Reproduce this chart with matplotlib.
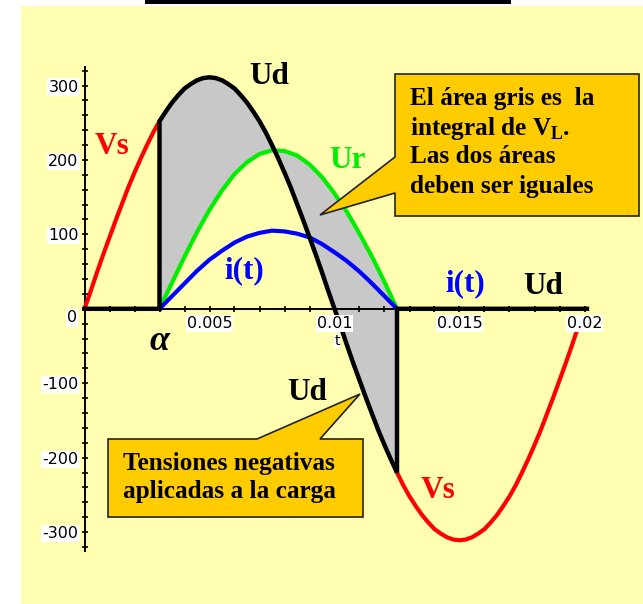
import numpy as np
import matplotlib.pyplot as plt
from matplotlib.patches import Polygon, Rectangle

# supply voltage Vs sampled every 0.25 ms over one 50 Hz period
t_vs = np.arange(81) * 0.00025
vs = [0, 24, 49, 73, 96, 119, 141, 163, 183, 202, 220, 237, 252, 265, 277, 287,
      296, 302, 307, 310, 311, 310, 307, 302, 296, 287, 277, 265, 252, 237, 220,
      202, 183, 163, 141, 119, 96, 73, 49, 24, 0,
      -24, -49, -73, -96, -119, -141, -163, -183, -202, -220, -237, -252, -265,
      -277, -287, -296, -302, -307, -310, -311, -310, -307, -302, -296, -287,
      -277, -265, -252, -237, -220, -202, -183, -163, -141, -119, -96, -73, -49,
      -24, 0]

alpha_idx = 12      # firing instant, t = 0.003 s
off_idx = 50        # current extinction, t = 0.0125 s
red_end_idx = 79

# conduction interval, sampled every 0.5 ms
t_cond = t_vs[alpha_idx:off_idx + 1:2]
ur = [0, 35, 70, 103, 133, 159, 181, 197, 208, 213, 212, 206, 194, 177, 155,
      130, 101, 70, 36, 0]
i_t = [0, 17, 34, 51, 66, 78, 89, 97, 102, 105, 104, 101, 96, 87, 76, 64, 50,
       34, 17, 0]

xticks = [0.005, 0.01, 0.015, 0.02]
xlabels = ['0.005', '0.01', '0.015', '0.02']
yticks = [-300, -200, -100, 100, 200, 300]
ylabels = ['-300', '-200', '-100', '100', '200', '300']

W, H = 643, 604


def fx(x):
    return x / W


def fy(y):
    return 1 - y / H


fig = plt.figure(figsize=(W / 100, H / 100), dpi=100)
fig.patch.set_facecolor('white')
fig.add_artist(Rectangle((fx(21), 0), 1 - fx(21), fy(6), transform=fig.transFigure,
                         fc='#FFFFB2', ec='none', zorder=-2))
fig.add_artist(Rectangle((fx(145), fy(4)), fx(511) - fx(145), fy(0) - fy(4),
                         transform=fig.transFigure, fc='black', ec='none', zorder=-1))

ax = fig.add_axes([0, 0, 1, 1])
ax.set_facecolor('none')

vs = np.array(vs)
ud_cond = vs[alpha_idx:off_idx + 1:2]

# grey area between Ud and Ur
ax.fill_between(t_cond, ud_cond, ur, color='#C8C8C8', lw=0, zorder=2)

ax.plot(t_vs[:alpha_idx + 1], vs[:alpha_idx + 1], color='#FF0000', lw=3, zorder=3)
ax.plot(t_vs[off_idx:red_end_idx + 1], vs[off_idx:red_end_idx + 1],
        color='#FF0000', lw=3, zorder=3)
ax.plot(t_cond, ur, color='#00EE00', lw=3, zorder=4)
ax.plot(t_cond, i_t, color='#0000FF', lw=3, zorder=4)

# load voltage Ud: zero, then Vs during conduction, then zero again
ud_t = np.concatenate([[0], t_vs[alpha_idx:off_idx + 1], [t_vs[off_idx], 0.0201]])
ud_v = np.concatenate([[0], vs[alpha_idx:off_idx + 1], [0, 0]])
ud_t = np.insert(ud_t, 1, t_vs[alpha_idx])
ud_v = np.insert(ud_v, 1, 0)
ax.plot(ud_t, ud_v, color='black', lw=3.2, zorder=5, solid_joinstyle='miter')

x0, k_x = 84.5, 25000.0
y0, k_y = 308.8, 0.7443
ax.set_xlim(-x0 / k_x, (W - x0) / k_x)
ax.set_ylim(-(H - y0) / k_y, y0 / k_y)

for side in ['top', 'right']:
    ax.spines[side].set_visible(False)
ax.spines['left'].set_position(('data', 0))
ax.spines['bottom'].set_position(('data', 0))
ax.spines['left'].set_bounds(-325, 325)
ax.spines['bottom'].set_bounds(0, 0.0201)
ax.spines['left'].set_linewidth(1.4)
ax.spines['bottom'].set_linewidth(1.4)

ax.set_xticks(xticks)
ax.set_xticklabels(xlabels)
ax.set_xticks(np.arange(21) * 0.001, minor=True)
ax.set_yticks(yticks)
ax.set_yticklabels(ylabels)
ax.set_yticks(np.arange(-16, 17) * 20, minor=True)
ax.tick_params(which='both', direction='inout', length=4.5, width=1.2,
               labelsize=11.5, colors='black')
ax.tick_params(axis='x', pad=3)
ax.tick_params(axis='y', pad=2)
ax.xaxis.set_zorder(6)
ax.yaxis.set_zorder(6)
for lab in ax.get_xticklabels() + ax.get_yticklabels():
    lab.set_fontfamily('DejaVu Sans')
    lab.set_bbox(dict(fc='white', ec='none', pad=0.8))

ft = fig.transFigure
ax.text(fx(72), fy(318), '0', transform=ft, ha='center', va='center',
        fontsize=11.5, family='DejaVu Sans',
        bbox=dict(fc='white', ec='none', pad=0.8))
ax.text(fx(337), fy(341), 't', transform=ft, ha='center', va='center',
        fontsize=10, family='DejaVu Sans',
        bbox=dict(fc='white', ec='none', pad=0.3), zorder=6)
ax.text(fx(160), fy(341), 'α', transform=ft, ha='center', va='center',
        fontsize=26, family='Liberation Serif', style='italic', weight='bold')

serif = dict(family='Liberation Serif', weight='bold', fontsize=22.5,
             ha='center', va='center', transform=ft, zorder=7)
ax.text(fx(112), fy(147), 'Vs', color='#FF0000', **serif)
ax.text(fx(269), fy(77), 'Ud', color='black', **serif)
ax.text(fx(347), fy(160), 'Ur', color='#00EE00', **serif)
ax.text(fx(244), fy(271), 'i(t)', color='#0000FF', **serif)
ax.text(fx(465), fy(284), 'i(t)', color='#0000FF', **serif)
ax.text(fx(543), fy(287), 'Ud', color='black', **serif)
ax.text(fx(307), fy(392), 'Ud', color='black', **serif)
ax.text(fx(438), fy(491), 'Vs', color='#FF0000', **serif)

# callout boxes
box1 = [(395, 74), (639, 74), (639, 216), (395, 216), (395, 193), (320, 215), (395, 157)]
box2 = [(108, 439), (257, 439), (360, 394), (320, 439), (363, 439), (363, 517), (108, 517)]
for pts in (box1, box2):
    fig.add_artist(Polygon([(fx(x), fy(y)) for x, y in pts], closed=True,
                           transform=ft, fc='#FFCC00', ec='#222222', lw=1.2, zorder=8))

plt.rcParams['mathtext.fontset'] = 'custom'
plt.rcParams['mathtext.bf'] = 'Liberation Serif:bold'
plt.rcParams['mathtext.rm'] = 'Liberation Serif:bold'

note = dict(family='Liberation Serif', weight='bold', fontsize=18.2,
            ha='left', va='baseline', color='black', zorder=9)
fig.text(fx(410), fy(105), 'El área gris es  la', **note)
fig.text(fx(410), fy(135), r'integral de V$_{\mathbf{L}}$.', **note)
fig.text(fx(410), fy(163), 'Las dos áreas', **note)
fig.text(fx(410), fy(193), 'deben ser iguales', **note)
fig.text(fx(123), fy(470), 'Tensiones negativas', **note)
fig.text(fx(123), fy(498), 'aplicadas a la carga', **note)

plt.savefig('out.png', dpi=100)
